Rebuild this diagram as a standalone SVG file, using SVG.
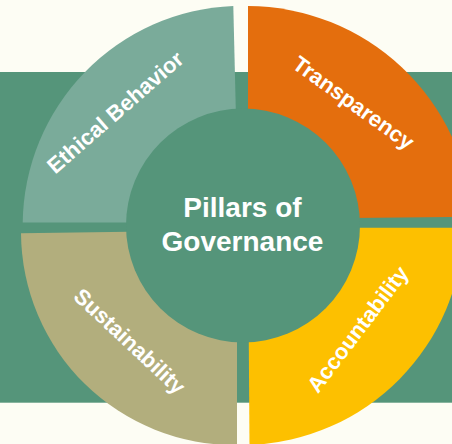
<svg xmlns="http://www.w3.org/2000/svg" width="452" height="444" viewBox="0 0 452 444">
  <style>
    .label { font-family: "Liberation Sans", Arial, sans-serif; font-weight: bold; fill: #FFFFFF; text-anchor: middle; }
    .seg-label { font-size: 22px; }
    .center-label { font-size: 28px; }
  </style>
  <rect x="0" y="0" width="452" height="444" fill="#FDFDF4"/>
  <rect id="band" x="0" y="72" width="452" height="330.7" fill="#55957A"/>

  <g id="ethical-behavior">
    <path d="M 238.5,222.5 L 233.3,6 A 219.4 219.4 0 0 0 22.7,222.5 Z" fill="#7AAB9A"/>
    <text class="label seg-label" x="115" y="112" dy="0.36em" transform="rotate(-41.1 115 112)">Ethical Behavior</text>
  </g>

  <g id="transparency">
    <path d="M 248,219 L 248,6 A 226 226 0 0 1 472.5,216.9 Z" fill="#E46E0D"/>
    <text class="label seg-label" x="353.7" y="102.5" dy="0.36em" transform="rotate(35.7 353.7 102.5)">Transparency</text>
  </g>

  <g id="accountability">
    <path d="M 248,227.7 L 463.5,227.7 A 222 222 0 0 1 249.5,445 Z" fill="#FDC000"/>
    <text class="label seg-label" x="357.5" y="329" dy="0.36em" transform="rotate(-52.8 357.5 329)">Accountability</text>
  </g>

  <g id="sustainability">
    <path d="M 237,230.3 L 21,233.3 A 213.2 213.2 0 0 0 237,445 Z" fill="#B2AE7D"/>
    <text class="label seg-label" x="130" y="341" dy="0.36em" transform="rotate(43.1 130 341)">Sustainability</text>
  </g>

  <g id="pillars-of-governance">
    <circle cx="243" cy="225.5" r="117" fill="#55957A"/>
    <text class="label center-label" x="242.5" y="216.7">Pillars of</text>
    <text class="label center-label" x="242.5" y="250.7">Governance</text>
  </g>
</svg>
